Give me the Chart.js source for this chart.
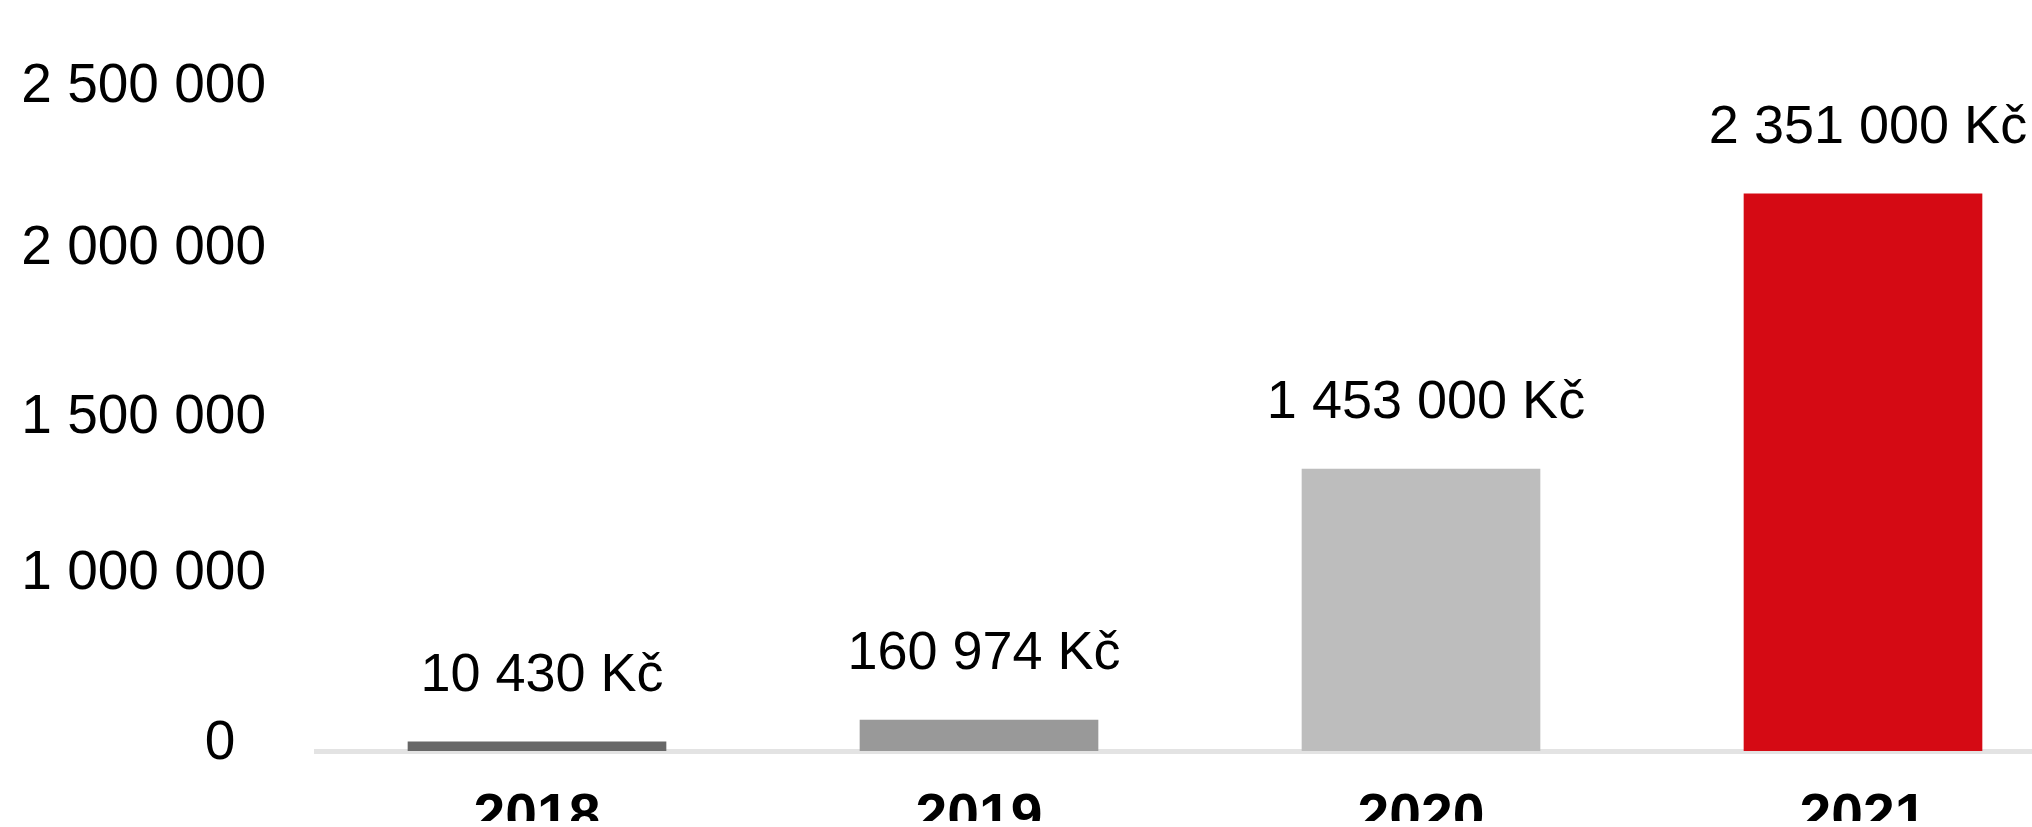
<!DOCTYPE html>
<html>
<head>
<meta charset="utf-8">
<script src="https://cdn.jsdelivr.net/npm/chart.js@4"></script>
<style>
  html, body { margin: 0; padding: 0; background: #ffffff; overflow: hidden; }
  #wrap { width: 2084px; height: 834px; }
</style>
</head>
<body>
<div id="wrap"><canvas id="c" width="2084" height="834"></canvas></div>
<script>
// ---- data ----
const categories = ['2018', '2019', '2020', '2021'];
// values printed above the bars (Kč)
const labelValues = [10430, 160974, 1453000, 2351000];
// bar heights as drawn, read against the drawn scale (Kč)
const barValues = [34000, 116000, 1057000, 2088000];
const barColors = ['#676767', '#999999', '#bdbdbd', '#d50a14'];
// y-axis tick labels and where they sit on the drawn scale
const tickLabels = ['0', '1 000 000', '1 500 000', '2 000 000', '2 500 000'];
const tickValues = [26000, 663000, 1248000, 1882000, 2489000];
const yMax = 2500000;

function fmt(n) {
  return String(n).replace(/\B(?=(\d{3})+(?!\d))/g, ' ');
}

const FONT = "'Liberation Sans', Arial, sans-serif";

const valueLabels = {
  id: 'valueLabels',
  afterDatasetsDraw(chart) {
    const ctx = chart.ctx;
    ctx.save();
    ctx.font = '54px ' + FONT;
    ctx.fillStyle = '#000000';
    ctx.textAlign = 'center';
    ctx.textBaseline = 'alphabetic';
    categories.forEach((c, i) => {
      const bar = chart.getDatasetMeta(i === 0 ? 0 : 1).data[i];
      if (!bar) return;
      ctx.fillText(fmt(labelValues[i]) + ' Kč', bar.x + 5, bar.y - 51);
    });
    ctx.restore();
  }
};

new Chart(document.getElementById('c'), {
  type: 'bar',
  data: {
    labels: categories,
    datasets: [{
      data: barValues.map((v, i) => (i === 0 ? v : null)),
      backgroundColor: barColors,
      borderWidth: 0,
      barThickness: 258,
      grouped: false
    }, {
      data: barValues.map((v, i) => (i === 0 ? null : v)),
      backgroundColor: barColors,
      borderWidth: 0,
      barThickness: 238,
      grouped: false
    }]
  },
  options: {
    responsive: false,
    animation: false,
    devicePixelRatio: 1,
    layout: { padding: { top: 84, right: 0, bottom: 0, left: 0 } },
    plugins: {
      legend: { display: false },
      tooltip: { enabled: false },
      title: { display: false }
    },
    scales: {
      x: {
        grid: { display: true, drawOnChartArea: false, drawTicks: false, color: 'rgba(0,0,0,0)' },
        border: { display: true, color: '#e3e3e3', width: 5 },
        ticks: {
          color: '#000000',
          font: { family: FONT, size: 57, weight: 'bold' },
          padding: 33,
          maxRotation: 0
        },
        afterFit(scale) { scale.height = 70; }
      },
      y: {
        min: 0,
        max: yMax,
        grid: { display: false, drawTicks: false },
        border: { display: false },
        afterBuildTicks(scale) {
          scale.ticks = tickValues.map(v => ({ value: v }));
        },
        ticks: {
          color: '#000000',
          font: { family: FONT, size: 55 },
          padding: 50,
          callback(value, index) {
            const t = tickLabels[index];
            return t === '0' ? t + '\u00A0\u00A0' : t;
          }
        },
        afterFit(scale) { scale.width = 316; }
      }
    }
  },
  plugins: [valueLabels]
});
</script>
</body>
</html>
